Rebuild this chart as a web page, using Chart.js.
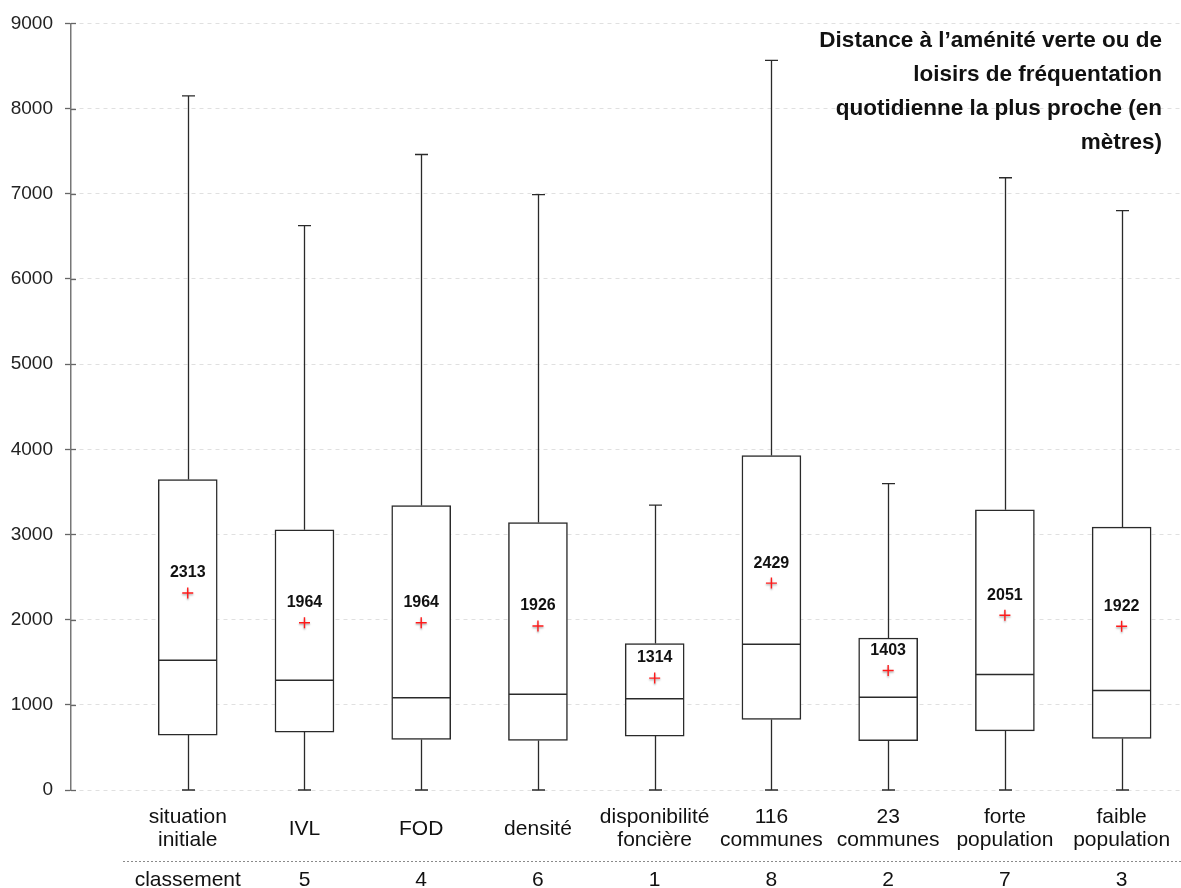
<!DOCTYPE html>
<html lang="fr">
<head>
<meta charset="utf-8">
<title>Distance à l’aménité verte ou de loisirs</title>
<script src="https://cdn.jsdelivr.net/npm/chart.js@4.4.1/dist/chart.umd.min.js"></script>
<style>
  html, body { margin: 0; padding: 0; background: #fff; }
  #wrap { width: 1181px; height: 888px; position: relative; }
</style>
</head>
<body>
<div id="wrap"><canvas id="boxplot"></canvas></div>
<script>
const FONT = "'Liberation Sans', Arial, Helvetica, sans-serif";

// Catégories (une ligne par élément du tableau)
const CATEGORIES = [
  ["situation", "initiale"],
  ["IVL"],
  ["FOD"],
  ["densité"],
  ["disponibilité", "foncière"],
  ["116", "communes"],
  ["23", "communes"],
  ["forte", "population"],
  ["faible", "population"],
];
const RANKS = ["classement", "5", "4", "6", "1", "8", "2", "7", "3"];

// Statistiques des boîtes (en mètres)
const MINS = [0, 0, 0, 0, 0, 0, 0, 0, 0];
const Q1 = [645, 680, 594, 582, 633, 828, 578, 695, 606];
const MEDIANS = [1523, 1289, 1082, 1125, 1070, 1711, 1090, 1356, 1168];
const Q3 = [3645, 3055, 3340, 3141, 1719, 3926, 1785, 3289, 3086];
const MAXS = [8148, 6625, 7461, 6990, 3344, 8566, 3598, 7188, 6801];
const MEANS = [2313, 1964, 1964, 1926, 1314, 2429, 1403, 2051, 1922];

const Y_TICKS = [0, 1000, 2000, 3000, 4000, 5000, 6000, 7000, 8000, 9000];

const TITLE = [
  "Distance à l’aménité verte ou de",
  "loisirs de fréquentation",
  "quotidienne la plus proche (en",
  "mètres)",
];

// moustaches, médianes, étiquettes, titre
const boxExtras = {
  id: "boxExtras",
  beforeDatasetsDraw(chart) {
    const { ctx, scales: { x, y } } = chart;
    ctx.save();
    ctx.strokeStyle = "#2a2a2a";
    ctx.lineWidth = 1.3;
    CATEGORIES.forEach((_, i) => {
      const cx = Math.round(x.getPixelForValue(i + 1)) + 0.5;
      [[Q3[i], MAXS[i]], [Q1[i], MINS[i]]].forEach(([from, to]) => {
        const y0 = y.getPixelForValue(from);
        const y1 = y.getPixelForValue(to);
        ctx.beginPath();
        ctx.moveTo(cx, y0);
        ctx.lineTo(cx, y1);
        ctx.moveTo(cx - 6.5, y1);
        ctx.lineTo(cx + 6.5, y1);
        ctx.stroke();
      });
    });
    // petites graduations à l'intérieur de l'axe
    ctx.strokeStyle = "#666";
    Y_TICKS.forEach((v) => {
      const py = Math.round(y.getPixelForValue(v)) + 0.5;
      ctx.beginPath();
      ctx.moveTo(y.right, py);
      ctx.lineTo(y.right + 5, py);
      ctx.stroke();
    });
    ctx.restore();
  },
  beforeDatasetDraw(chart, args) {
    if (args.meta.type === "scatter") {
      chart.ctx.save();
      chart.ctx.shadowColor = "rgba(0,0,0,0.35)";
      chart.ctx.shadowBlur = 2;
      chart.ctx.shadowOffsetY = 1.5;
    }
  },
  afterDatasetDraw(chart, args) {
    const { ctx, scales: { x, y } } = chart;
    if (args.meta.type === "scatter") {
      ctx.restore();
      return;
    }
    // médianes par-dessus les boîtes
    ctx.save();
    ctx.strokeStyle = "#2a2a2a";
    ctx.lineWidth = 1.5;
    CATEGORIES.forEach((_, i) => {
      const cx = x.getPixelForValue(i + 1);
      const py = y.getPixelForValue(MEDIANS[i]);
      ctx.beginPath();
      ctx.moveTo(cx - 29, py);
      ctx.lineTo(cx + 29, py);
      ctx.stroke();
    });
    ctx.restore();
  },
  afterDatasetsDraw(chart) {
    const { ctx, scales: { x, y } } = chart;
    ctx.save();
    ctx.font = "bold 16px " + FONT;
    ctx.fillStyle = "#111";
    ctx.textAlign = "center";
    ctx.textBaseline = "middle";
    MEANS.forEach((m, i) => {
      ctx.fillText(String(m), x.getPixelForValue(i + 1), y.getPixelForValue(m) - 20);
    });
    ctx.restore();
  },
  afterDraw(chart) {
    const { ctx, chartArea, scales: { x } } = chart;
    const bottom = chartArea.bottom;
    ctx.save();
    // libellés des catégories
    ctx.font = "21px " + FONT;
    ctx.fillStyle = "#111";
    ctx.textAlign = "center";
    ctx.textBaseline = "middle";
    CATEGORIES.forEach((lines, i) => {
      const cx = x.getPixelForValue(i + 1);
      lines.forEach((t, k) => {
        ctx.fillText(t, cx, bottom + 39 + (k - (lines.length - 1) / 2) * 23);
      });
    });
    // ligne pointillée
    ctx.strokeStyle = "#8a8a8a";
    ctx.lineWidth = 1;
    ctx.setLineDash([2, 2]);
    ctx.beginPath();
    ctx.moveTo(123, bottom + 71.5);
    ctx.lineTo(chart.width, bottom + 71.5);
    ctx.stroke();
    ctx.setLineDash([]);
    // classement
    RANKS.forEach((r, i) => {
      ctx.fillText(r, x.getPixelForValue(i + 1), bottom + 90);
    });
    // titre
    ctx.font = "bold 22.5px " + FONT;
    ctx.textAlign = "right";
    TITLE.forEach((t, k) => {
      ctx.fillText(t, 1162, 41 + k * 34);
    });
    ctx.restore();
  },
};

const ctx = document.getElementById("boxplot").getContext("2d");
new Chart(ctx, {
  type: "bar",
  data: {
    datasets: [
      {
        type: "scatter",
        label: "moyenne",
        data: MEANS.map((m, i) => ({ x: i + 1, y: m })),
        pointStyle: "cross",
        pointRadius: 5.5,
        pointBorderColor: "#ff1a1a",
        pointBorderWidth: 1.4,
        order: 0,
      },
      {
        label: "boîtes",
        data: Q1.map((q, i) => ({ x: i + 1, y: [q, Q3[i]] })),
        backgroundColor: "#ffffff",
        borderColor: "#2a2a2a",
        borderWidth: 1.5,
        borderSkipped: false,
        barThickness: 59,
        order: 1,
      },
    ],
  },
  options: {
    responsive: true,
    maintainAspectRatio: false,
    animation: false,
    layout: { autoPadding: false, padding: { top: 22, right: 1, bottom: 98, left: 0 } },
    plugins: {
      legend: { display: false },
      tooltip: { enabled: false },
    },
    scales: {
      x: { type: "linear", min: 0, max: 9.5, offset: false, display: false },
      y: {
        min: 0,
        max: 9000,
        afterFit: (scale) => { scale.width = 71; },
        afterBuildTicks: (scale) => { scale.ticks = Y_TICKS.map((v) => ({ value: v })); },
        ticks: {
          color: "#222",
          padding: 12,
          font: { family: FONT, size: 19 },
          callback: (v) => String(v),
        },
        grid: {
          color: "#e0e0e0",
          lineWidth: 1,
          tickLength: 6,
          tickColor: "#666",
          tickWidth: 1.3,
        },
        border: { display: true, color: "#777", width: 1.5, dash: [4, 4] },
      },
    },
  },
  plugins: [boxExtras],
});
</script>
</body>
</html>
